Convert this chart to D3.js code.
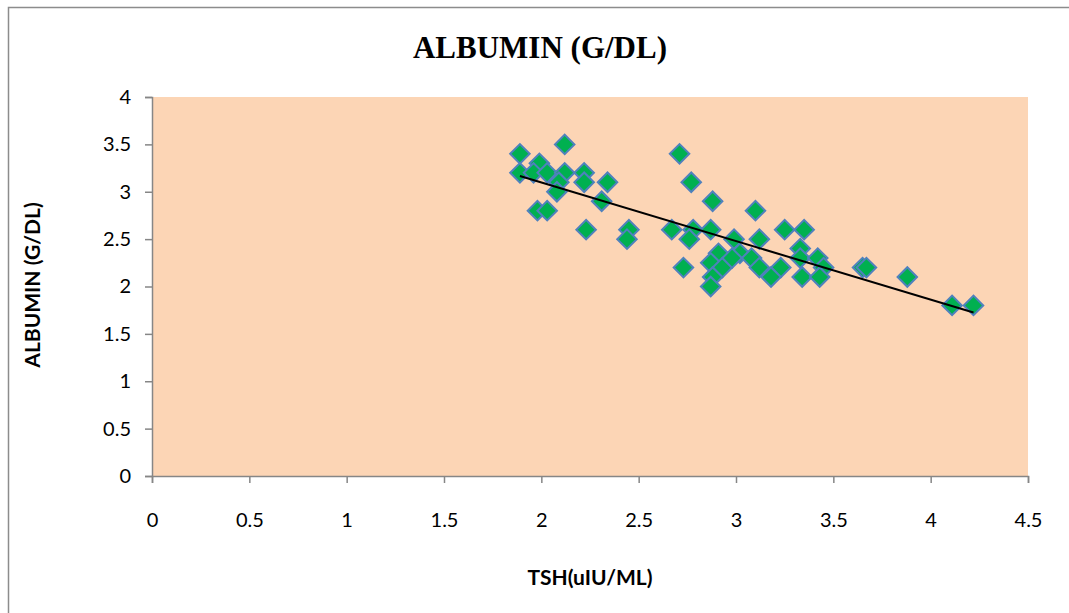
<!DOCTYPE html>
<html>
<head>
<meta charset="utf-8">
<script src="https://cdn.jsdelivr.net/npm/d3@7"></script>
<style>
  html, body { margin: 0; padding: 0; background: #ffffff; }
  svg { display: block; }
</style>
</head>
<body>
<svg id="chart" width="1069" height="613"></svg>
<script>
// TSH (uIU/mL) readings and the matching albumin (g/dL) readings
const tsh = [
  2.12, 1.89, 1.99, 1.89, 1.96, 2.03, 2.12, 2.22, 2.09, 2.22,
  2.08, 1.98, 2.03, 2.34, 2.31, 2.23, 2.45, 2.44, 2.71, 2.77,
  2.88, 2.67, 2.78, 2.87, 2.76, 2.99, 3.02, 2.73, 2.91, 2.87,
  2.93, 2.88, 2.87, 2.98, 3.10, 3.25, 3.35, 3.12, 3.33, 3.08,
  3.12, 3.23, 3.18, 3.33, 3.42, 3.45, 3.34, 3.43, 3.65, 3.67,
  3.88, 4.11, 4.22
];
const albumin = [
  3.5, 3.4, 3.3, 3.2, 3.2, 3.2, 3.2, 3.2, 3.1, 3.1,
  3.0, 2.8, 2.8, 3.1, 2.9, 2.6, 2.6, 2.5, 3.4, 3.1,
  2.9, 2.6, 2.6, 2.6, 2.5, 2.5, 2.35, 2.2, 2.35, 2.25,
  2.2, 2.1, 2.0, 2.3, 2.8, 2.6, 2.6, 2.5, 2.4, 2.3,
  2.2, 2.2, 2.1, 2.3, 2.3, 2.2, 2.1, 2.1, 2.2, 2.2,
  2.1, 1.8, 1.8
];
const xTicks = [0, 0.5, 1, 1.5, 2, 2.5, 3, 3.5, 4, 4.5];
const yTicks = [0, 0.5, 1, 1.5, 2, 2.5, 3, 3.5, 4];

const chartTitle = "ALBUMIN (G/DL)";
const xTitle = "TSH(uIU/ML)";
const yTitle = "ALBUMIN (G/DL)";

const svg = d3.select("#chart");
const plot = { left: 152, right: 1028, top: 97, bottom: 476 };

const x = d3.scaleLinear().domain([0, 4.5]).range([plot.left, plot.right]);
const y = d3.scaleLinear().domain([0, 4]).range([plot.bottom, plot.top]);

// chart frame (right edge runs past the page)
svg.append("rect")
  .attr("x", 8.5).attr("y", 7.5)
  .attr("width", 1080).attr("height", 620)
  .attr("fill", "#ffffff")
  .attr("stroke", "#8c8c8c")
  .attr("stroke-width", 1.5);

// plot area fill
svg.append("rect")
  .attr("x", plot.left).attr("y", plot.top)
  .attr("width", plot.right - plot.left)
  .attr("height", plot.bottom - plot.top)
  .attr("fill", "#fcd5b5");

// title
svg.append("text")
  .attr("x", 540).attr("y", 58)
  .attr("text-anchor", "middle")
  .attr("font-family", "'Liberation Serif', 'Times New Roman', serif")
  .attr("font-weight", "bold")
  .attr("font-size", 31)
  .attr("fill", "#000")
  .text(chartTitle);

const tickFont = "Lato, 'Open Sans', sans-serif";

// y axis
const yAxis = svg.append("g")
  .attr("transform", `translate(${plot.left},0)`)
  .call(d3.axisLeft(y).tickValues(yTicks).tickSize(7).tickPadding(14)
    .tickFormat(d3.format("")));
yAxis.select(".domain").attr("stroke", "#868686").attr("stroke-width", 1.5);
yAxis.selectAll(".tick line").attr("stroke", "#868686").attr("stroke-width", 1.5);
yAxis.selectAll(".tick text")
  .attr("font-family", tickFont).attr("font-size", 20).attr("fill", "#000");

// x axis
const xAxis = svg.append("g")
  .attr("transform", `translate(0,${plot.bottom})`)
  .call(d3.axisBottom(x).tickValues(xTicks).tickSize(7).tickPadding(30)
    .tickFormat(d3.format("")));
xAxis.select(".domain").attr("stroke", "#868686").attr("stroke-width", 1.5);
xAxis.selectAll(".tick line").attr("stroke", "#868686").attr("stroke-width", 1.5);
xAxis.selectAll(".tick text")
  .attr("font-family", tickFont).attr("font-size", 20).attr("fill", "#000");

// axis titles
svg.append("text")
  .attr("x", 590).attr("y", 585)
  .attr("text-anchor", "middle")
  .attr("font-family", tickFont)
  .attr("font-weight", "bold")
  .attr("font-size", 21)
  .text(xTitle);

svg.append("text")
  .attr("transform", "translate(40,285) rotate(-90)")
  .attr("text-anchor", "middle")
  .attr("font-family", tickFont)
  .attr("font-weight", "bold")
  .attr("font-size", 21)
  .text(yTitle);

// data points: green diamonds with blue outline
const pts = tsh.map((t, i) => ({ t, a: albumin[i] }));
const diamond = d3.symbol().type(d3.symbolSquare).size(190);
svg.append("g").selectAll("path")
  .data(pts)
  .join("path")
  .attr("d", diamond)
  .attr("transform", d => `translate(${x(d.t)},${y(d.a)}) rotate(45)`)
  .attr("fill", "#00b050")
  .attr("stroke", "#4f81bd")
  .attr("stroke-width", 2);

// least-squares linear trendline across the TSH range
const mx = d3.mean(tsh), my = d3.mean(albumin);
const sxy = d3.sum(pts, d => (d.t - mx) * (d.a - my));
const sxx = d3.sum(pts, d => (d.t - mx) * (d.t - mx));
const slope = sxy / sxx;
const icpt = my - slope * mx;
const [tMin, tMax] = d3.extent(tsh);
svg.append("line")
  .attr("x1", x(tMin)).attr("y1", y(icpt + slope * tMin))
  .attr("x2", x(tMax)).attr("y2", y(icpt + slope * tMax))
  .attr("stroke", "#000")
  .attr("stroke-width", 2);
</script>
</body>
</html>
